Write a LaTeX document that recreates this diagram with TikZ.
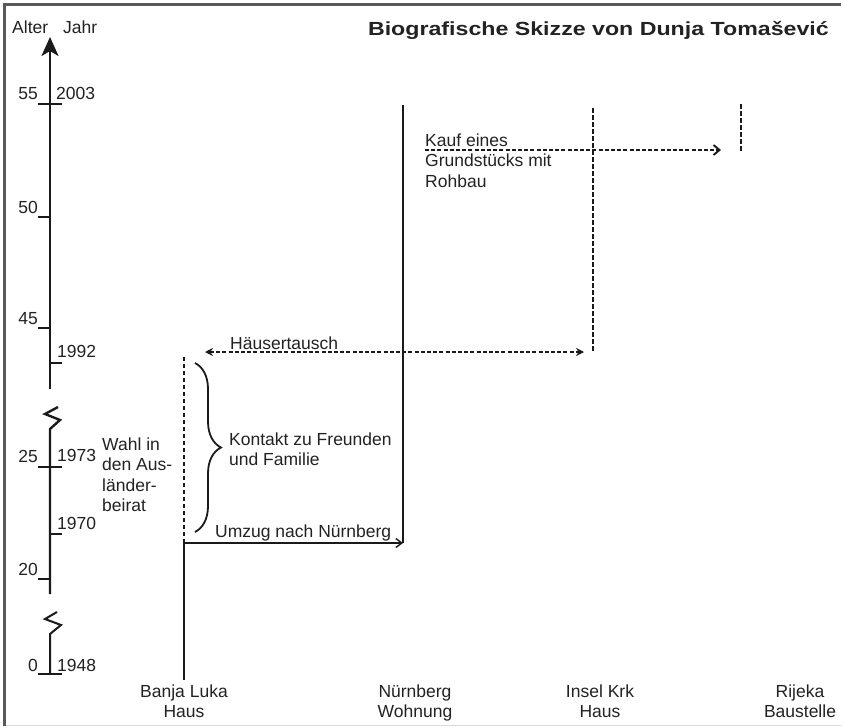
\documentclass[tikz,border=0pt]{standalone}
\usepackage{fontspec}
\setmainfont{Liberation Sans}
\usetikzlibrary{arrows.meta,decorations.pathreplacing}
\definecolor{ink}{HTML}{1A1A1A}
\definecolor{txt}{HTML}{222222}
\begin{document}
\begin{tikzpicture}[x=1pt,y=-1pt,
  font=\fontsize{17.5}{20.5}\selectfont,
  every node/.style={inner sep=0pt,text=txt},
  axis/.style={draw=ink,line width=2.4pt},
  tick/.style={draw=ink,line width=1.3pt},
  solid line/.style={draw=ink,line width=2.2pt},
  dash line/.style={draw=ink,line width=2.4pt,dash pattern=on 4.5pt off 2.5pt},
  dash arrow/.style={draw=ink,line width=1.9pt,dash pattern=on 4pt off 2.2pt},
  lbl/.style={align=left,anchor=north west},
  place/.style={align=center,anchor=north}]
\useasboundingbox (0,0) rectangle (844,728);
% frame
\draw[gray!30,line width=1pt] (4,725) -- (841,725);
\draw[black!65,line width=2.6pt] (4.5,726) -- (4.5,4.5) -- (841,4.5);
% title
\node[anchor=base east] (title) at (829,35)
  {\scalebox{1.22}[1]{\fontsize{19}{22}\selectfont\bfseries Biografische Skizze von Dunja Tomašević}};
% axis headings
\node[anchor=base west] (alter) at (12,33) {Alter};
\node[anchor=base west] (jahr) at (63,33) {Jahr};
% axis
\coordinate (ax1top) at (50,37);
\coordinate (ax1bot) at (50,389);
\draw[axis,-{Stealth[length=19pt,width=17pt,inset=5pt]}] (ax1bot) -- (ax1top);
\coordinate (z1a) at (58,407);
\coordinate (z1b) at (45,414);
\coordinate (z1c) at (60,420);
\coordinate (z1d) at (50,429);
\coordinate (ax2bot) at (50,594);
\draw[axis,line join=miter] (z1a) -- (z1b) -- (z1c) -- (z1d) -- (ax2bot);
\coordinate (z2a) at (57,612);
\coordinate (z2b) at (45,619);
\coordinate (z2c) at (61,625);
\coordinate (z2d) at (50,634);
\coordinate (ax3bot) at (50,674);
\draw[axis,line width=2pt,line join=miter] (z2a) -- (z2b) -- (z2c) -- (z2d) -- (ax3bot);
% ticks
\draw[tick] (38,104) -- (62,104);
\draw[tick] (38,217) -- (50,217);
\draw[tick] (38,328) -- (50,328);
\draw[tick] (50,363) -- (62,363);
\draw[tick] (38,467) -- (62,467);
\draw[tick] (50,534) -- (62,534);
\draw[tick] (38,579) -- (50,579);
\draw[tick] (38,674) -- (62,674);
% age labels
\node[anchor=base east] (a55) at (38,99.5) {55};
\node[anchor=base east] (a50) at (38,213) {50};
\node[anchor=base east] (a45) at (38,324) {45};
\node[anchor=base east] (a25) at (38,462) {25};
\node[anchor=base east] (a20) at (38,575) {20};
\node[anchor=base east] (a0) at (38,671) {0};
% year labels
\node[anchor=base west] (y2003) at (56,99.5) {2003};
\node[anchor=base west] (y1992) at (57,357.5) {1992};
\node[anchor=base west] (y1973) at (57,461.5) {1973};
\node[anchor=base west] (y1970) at (57,529) {1970};
\node[anchor=base west] (y1948) at (57,671) {1948};
% places
\node[place] (banja) at (184,684.5) {Banja Luka\\Haus};
\node[place] (nbg) at (415,684.5) {Nürnberg\\Wohnung};
\node[place] (krk) at (600,684.5) {Insel Krk\\Haus};
\node[place] (rij) at (800,684.5) {Rijeka\\Baustelle};
% Banja Luka
\coordinate (banjaBot) at (184,680);
\coordinate (banjaMove) at (184,543);
\coordinate (banjaTop) at (184,357);
\draw[solid line] (banjaBot) -- (banjaMove);
\draw[dash line] (banjaMove) -- (banjaTop);
% Nuernberg
\coordinate (nbgTop) at (403,105);
\coordinate (nbgBot) at (403,543);
\draw[solid line] (nbgTop) -- (nbgBot);
\draw[draw=ink,line width=1.4pt,-{Straight Barb[length=6pt,width=9pt]}] (banjaMove) -- (nbgBot);
\node[anchor=base west] (umzug) at (215,537.3) {Umzug nach Nürnberg};
% Krk
\coordinate (krkTop) at (593,108);
\coordinate (krkBot) at (593,353);
\draw[dash line] (krkTop) -- (krkBot);
% Haeusertausch
\coordinate (htL) at (205,352);
\coordinate (htR) at (584,352);
\draw[dash arrow,{Stealth[length=8pt,width=8pt]}-{Stealth[length=8pt,width=8pt]}] (htL) -- (htR);
\node[anchor=base west] (haeuser) at (230,349.3) {Häusertausch};
% Rijeka
\coordinate (rijTop) at (741,104);
\coordinate (rijBot) at (741,151);
\draw[dash line] (rijTop) -- (rijBot);
% Kauf
\coordinate (kaufL) at (425,150);
\coordinate (kaufR) at (721,150);
\draw[dash arrow,-{Straight Barb[length=6pt,width=10pt]}] (kaufL) -- (kaufR);
\node[lbl] (kauf) at (425,133.5) {Kauf eines\\Grundstücks mit\\Rohbau};
% brace
\coordinate (brT) at (195,363);
\coordinate (brB) at (195,532);
\draw[draw=ink,line width=1.8pt,decorate,decoration={brace,amplitude=26pt,aspect=0.5}] (brT) -- (brB);
\node[lbl] (kontakt) at (229,432.5) {Kontakt zu Freunden\\und Familie};
% Wahl
\node[lbl] (wahl) at (102,437.5) {Wahl in\\den Aus-\\länder-\\beirat};
\end{tikzpicture}
\end{document}
